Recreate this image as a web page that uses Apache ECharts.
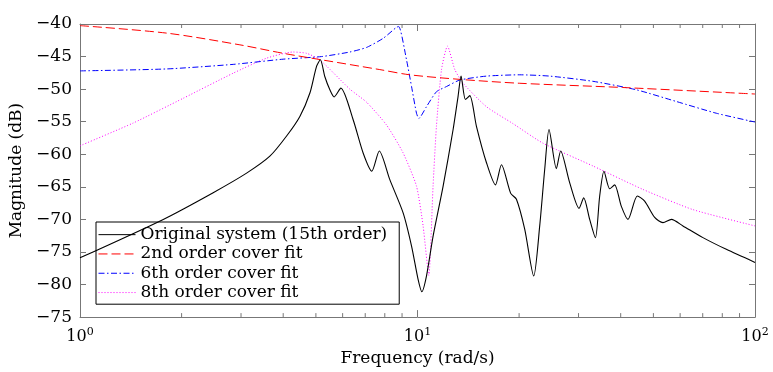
<!DOCTYPE html>
<html>
<head>
<meta charset="utf-8">
<script src="https://cdn.jsdelivr.net/npm/echarts@6/dist/echarts.min.js"></script>
<style>
  html, body { margin: 0; padding: 0; background: #fff; }
  #chart { width: 773px; height: 372px; }
</style>
</head>
<body>
<div id="chart"></div>
<script>
// values: [frequency (rad/s), magnitude (dB)]
const originalSystem = [
  [1.0, -75.9], [1.765, -70.0], [2.481, -65.9], [3.116, -62.9], [3.652, -60.3],
  [4.094, -57.2], [4.482, -54.2], [4.799, -50.6], [5.022, -46.5], [5.154, -45.5],
  [5.316, -48.1], [5.5, -50.1], [5.663, -51.2], [5.928, -49.85], [6.447, -54.7],
  [6.901, -59.8], [7.322, -62.6], [7.706, -59.5], [8.279, -63.9], [9.066, -69.0],
  [9.602, -74.1], [10.04, -79.2], [10.3, -81.1], [10.63, -78.7], [11.12, -72.6],
  [11.91, -64.9], [12.75, -56.2], [13.19, -51.1], [13.46, -48.0], [13.87, -51.6],
  [14.29, -51.0], [14.95, -55.7], [16.01, -61.3], [17.02, -64.7], [17.73, -61.6],
  [18.89, -66.0], [19.64, -66.9], [20.78, -71.5], [22.1, -78.7], [23.02, -71.0],
  [23.82, -62.3], [24.53, -56.2], [25.79, -62.2], [26.56, -59.5], [28.25, -64.4],
  [30.1, -68.3], [31.08, -66.7], [32.37, -70.0], [33.66, -72.8], [34.66, -66.4],
  [35.69, -62.6], [37.1, -65.3], [38.38, -64.7], [40.18, -68.0], [42.03, -70.0],
  [44.82, -66.4], [47.1, -67.2], [50.44, -69.7], [53.38, -70.5], [56.53, -70.0],
  [61.16, -71.0], [70.1, -72.8], [82.22, -74.6], [100, -76.6]
];
const secondOrderFit = [
  [1.0, -40.25], [1.806, -41.4], [2.977, -43.2], [4.0, -44.5], [5.196, -45.5],
  [7.732, -47.0], [9.489, -47.8], [13.35, -48.5], [20.09, -49.1], [40.55, -49.75],
  [100, -50.75]
];
const sixthOrderFit = [
  [1.0, -47.2], [1.806, -46.9], [2.844, -46.2], [4.0, -45.4], [5.196, -45.0],
  [6.303, -44.3], [7.063, -43.6], [7.911, -42.2], [8.666, -40.5], [8.803, -40.4],
  [9.278, -45.5], [9.602, -49.6], [9.932, -53.7], [10.09, -54.5], [10.63, -52.7],
  [11.38, -50.4], [12.19, -49.6], [13.35, -48.6], [16.01, -48.0], [20.09, -47.8],
  [24.65, -48.0], [33.11, -48.8], [44.51, -50.1], [58.49, -51.9], [76.8, -53.7],
  [100, -55.05]
];
const eighthOrderFit = [
  [1.0, -58.7], [1.438, -55.2], [2.023, -51.4], [2.844, -47.55], [3.571, -45.25],
  [4.281, -44.3], [4.692, -44.5], [5.136, -45.5], [6.303, -50.0], [7.063, -52.0],
  [8.094, -55.5], [9.066, -59.8], [9.932, -64.9], [10.39, -71.0], [10.8, -78.6],
  [11.12, -64.9], [11.38, -55.7], [11.78, -47.0], [12.27, -43.4], [12.9, -47.0],
  [13.65, -49.1], [16.01, -52.7], [19.19, -55.3], [23.54, -58.3], [33.11, -61.8],
  [46.56, -65.4], [65.5, -68.5], [100, -71.0]
];

const seriesNames = [
  'Original system (15th order)',
  '2nd order cover fit',
  '6th order cover fit',
  '8th order cover fit'
];

// axis ticks and labels
const yTickValues = [-85, -80, -75, -70, -65, -60, -55, -50, -45, -40];
const yTickLabels = ['\u221275', '\u221280', '\u221275', '\u221270', '\u221265', '\u221260', '\u221255', '\u221250', '\u221245', '\u221240'];
const xMinorTicks = [2, 3, 4, 5, 6, 7, 8, 9, 20, 30, 40, 50, 60, 70, 80, 90];

const FONT = 'DejaVu Serif';
const AXIS_GREY = '#777';

const chart = echarts.init(document.getElementById('chart'), null, { renderer: 'canvas' });

function xAxisBase(pos) {
  return {
    type: 'log',
    logBase: 10,
    min: 1,
    max: 100,
    position: pos,
    axisLine: { show: true, onZero: false, lineStyle: { color: AXIS_GREY, width: 1 } },
    axisTick: { show: true, inside: true, length: 7, lineStyle: { color: AXIS_GREY } },
    splitLine: { show: false },
    axisLabel: { show: false }
  };
}

function yAxisBase(pos) {
  return {
    type: 'value',
    min: -85,
    max: -40,
    interval: 5,
    position: pos,
    axisLine: { show: true, onZero: false, lineStyle: { color: AXIS_GREY, width: 1 } },
    axisTick: { show: true, inside: true, length: 6, lineStyle: { color: AXIS_GREY } },
    splitLine: { show: false },
    axisLabel: { show: false }
  };
}

const xBottom = xAxisBase('bottom');
xBottom.name = 'Frequency (rad/s)';
xBottom.nameLocation = 'middle';
xBottom.nameGap = 26;
xBottom.nameTextStyle = { fontFamily: FONT, fontSize: 17, color: '#000' };
xBottom.axisLabel = {
  show: true,
  margin: 10,
  formatter: v => '{b|10}{s|' + Math.round(Math.log10(v)) + '}',
  rich: {
    b: { fontFamily: FONT, fontSize: 16, color: '#000' },
    s: { fontFamily: FONT, fontSize: 11, color: '#000', padding: [0, 0, 9, 0] }
  }
};

const yLeft = yAxisBase('left');
yLeft.name = 'Magnitude (dB)';
yLeft.nameLocation = 'middle';
yLeft.nameGap = 48;
yLeft.nameTextStyle = { fontFamily: FONT, fontSize: 17, color: '#000' };
yLeft.axisLabel = {
  show: true,
  margin: 8,
  fontFamily: FONT,
  fontSize: 17,
  color: '#000',
  formatter: v => yTickLabels[yTickValues.indexOf(v)]
};

const lineStyles = [
  { color: '#000', width: 1.1, type: 'solid' },
  { color: '#ff0000', width: 1, type: [9, 4] },
  { color: '#0000ff', width: 1, type: [6, 2.5, 1.5, 2.5] },
  { color: '#ff00ff', width: 1, type: [1, 2] }
];
const dataSets = [originalSystem, secondOrderFit, sixthOrderFit, eighthOrderFit];
const smoothing = [0.25, 0.3, 0.2, 0.2];

const lineSeries = dataSets.map((d, i) => ({
  name: seriesNames[i],
  type: 'line',
  xAxisIndex: 0,
  yAxisIndex: 0,
  data: d,
  symbol: 'none',
  showSymbol: false,
  smooth: smoothing[i],
  color: lineStyles[i].color,
  lineStyle: lineStyles[i],
  z: 4 - i,
  animation: false
}));

// minor log ticks (2..9) on bottom and top frame
const minorTickSeries = {
  type: 'custom',
  xAxisIndex: 0,
  yAxisIndex: 0,
  silent: true,
  animation: false,
  clip: false,
  data: xMinorTicks.map(f => [f]),
  renderItem: (params, api) => {
    const b = api.coord([api.value(0), -85]);
    const t = api.coord([api.value(0), -40]);
    const style = { stroke: AXIS_GREY, lineWidth: 1 };
    return {
      type: 'group',
      children: [
        { type: 'line', shape: { x1: b[0], y1: b[1], x2: b[0], y2: b[1] - 4 }, style },
        { type: 'line', shape: { x1: t[0], y1: t[1], x2: t[0], y2: t[1] + 4 }, style }
      ]
    };
  }
};

chart.setOption({
  animation: false,
  backgroundColor: '#fff',
  grid: { left: 80, right: 18, top: 24, bottom: 54, containLabel: false },
  xAxis: [xBottom, xAxisBase('top')],
  yAxis: [yLeft, yAxisBase('right')],
  legend: {
    data: seriesNames,
    orient: 'vertical',
    left: 96,
    top: 222,
    padding: [3, 12, 2, 2],
    itemWidth: 37,
    itemHeight: 10,
    itemGap: 0,
    itemStyle: { opacity: 0 },
    lineStyle: { width: 1 },
    backgroundColor: '#fff',
    borderColor: '#000',
    borderWidth: 1,
    borderRadius: 0,
    selectedMode: false,
    textStyle: { fontFamily: FONT, fontSize: 17, color: '#000', lineHeight: 19.3 }
  },
  series: [...lineSeries, minorTickSeries]
});
</script>
</body>
</html>
